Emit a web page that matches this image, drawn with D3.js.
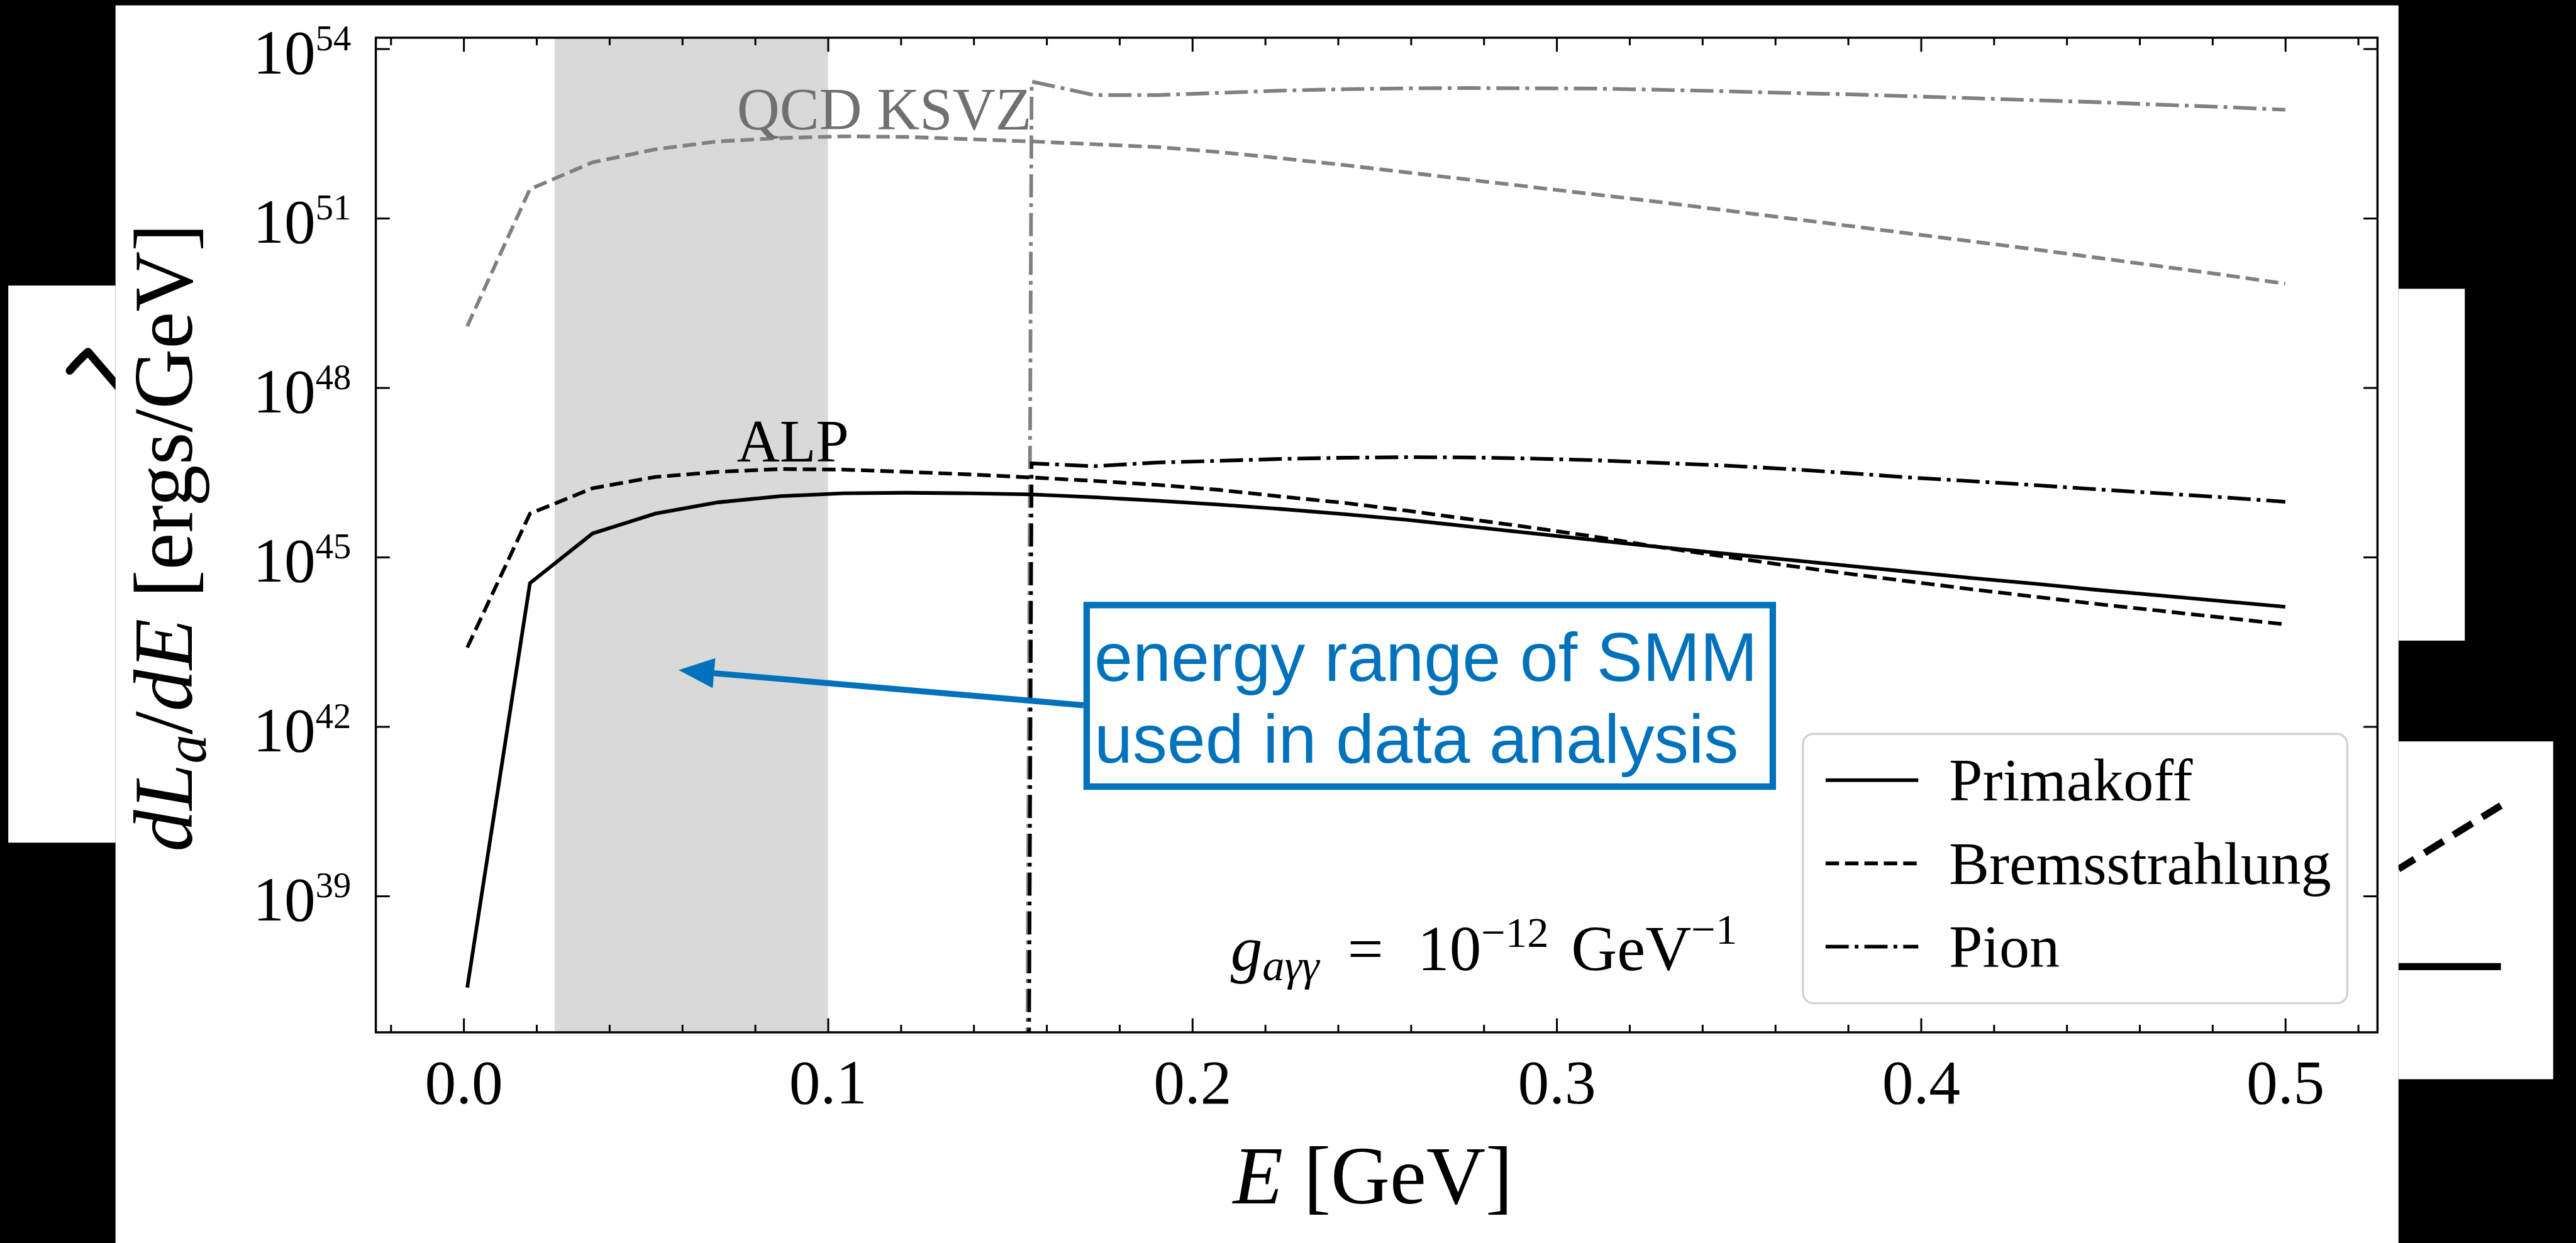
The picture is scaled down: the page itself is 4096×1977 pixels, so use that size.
<!DOCTYPE html>
<html>
<head>
<meta charset="utf-8">
<script src="https://cdn.jsdelivr.net/npm/d3@7"></script>
<style>
  html, body { margin: 0; padding: 0; background: #000; }
  svg { display: block; }
</style>
</head>
<body>
<svg id="chart"></svg>
<script>
// energies (GeV) of the computed spectrum
var energy = [0.001, 0.0182, 0.0354, 0.0526, 0.0698, 0.087, 0.1042, 0.1214, 0.1387, 0.1559,
  0.1731, 0.1903, 0.2075, 0.2247, 0.2419, 0.2591, 0.2763, 0.2935, 0.3107, 0.3279,
  0.3451, 0.3623, 0.3796, 0.3968, 0.414, 0.4312, 0.4484, 0.4656, 0.4828, 0.5];

// log10 of dL/dE [ergs/GeV]
var alpPrimakoff = [37.38, 44.54, 45.42, 45.77, 45.97, 46.08, 46.13, 46.14, 46.13, 46.11,
  46.06, 46.00, 45.93, 45.85, 45.76, 45.66, 45.54, 45.42, 45.30, 45.18,
  45.07, 44.96, 44.85, 44.74, 44.63, 44.53, 44.42, 44.32, 44.22, 44.12];
var alpBrems = [43.40, 45.77, 46.22, 46.42, 46.51, 46.56, 46.55, 46.51, 46.465, 46.41,
  46.35, 46.28, 46.19, 46.07, 45.96, 45.82, 45.67, 45.52, 45.36, 45.18,
  45.02, 44.86, 44.71, 44.57, 44.43, 44.30, 44.17, 44.05, 43.93, 43.81];
// pion channel opens near 0.155 GeV, below that it is ~0
var alpPion = [null, null, null, null, null, null, null, null, -200, 46.66,
  46.61, 46.675, 46.705, 46.74, 46.76, 46.77, 46.765, 46.745, 46.715, 46.67,
  46.625, 46.565, 46.49, 46.41, 46.345, 46.275, 46.20, 46.13, 46.06, 45.98];
var qcdBrems = [49.09, 51.515, 51.99, 52.22, 52.36, 52.42, 52.45, 52.44, 52.40, 52.36,
  52.31, 52.26, 52.17, 52.06, 51.94, 51.81, 51.68, 51.55, 51.42, 51.29,
  51.15, 51.01, 50.87, 50.73, 50.59, 50.45, 50.30, 50.15, 50.00, 49.84];
var qcdPion = [null, null, null, null, null, null, null, null, -200, 53.42,
  53.18, 53.18, 53.22, 53.26, 53.285, 53.30, 53.305, 53.30, 53.295, 53.275,
  53.25, 53.22, 53.195, 53.16, 53.125, 53.09, 53.055, 53.01, 52.97, 52.92];

var xTicks = [0, 0.1, 0.2, 0.3, 0.4, 0.5];
var xTickLabels = ["0.0", "0.1", "0.2", "0.3", "0.4", "0.5"];
var yTickExps = [39, 42, 45, 48, 51, 54];
var legendLabels = ["Primakoff", "Bremsstrahlung", "Pion"];
var smmRange = [0.025, 0.1];
var modelLabels = [["QCD KSVZ", 0.075, 52.574], ["ALP", 0.075, 46.698]];
var arrowTip = [0.059, 43.0];

var W = 4779, H = 2307;
var serif = "'Liberation Serif', 'DejaVu Serif', serif";
var sans = "'Liberation Sans', Arial, sans-serif";
var blue = "#0072bb";
var lw = 6.8;
var dashed = "25 11";
var dashdot = "43 11 7 11";

var svg = d3.select("#chart")
  .attr("width", 4096)
  .attr("height", 1977)
  .attr("viewBox", "0 0 " + W + " " + H);

// backdrop: black with white panels (slide screenshot)
svg.append("rect").attr("width", W).attr("height", H).attr("fill", "#000");
var panels = [[214, 10, 4236, 2297], [15, 530, 199, 1034], [4450, 536, 123, 653], [4450, 1376, 287, 627]];
svg.selectAll("rect.panel").data(panels).enter().append("rect")
  .attr("class", "panel")
  .attr("x", function(d) { return d[0]; })
  .attr("y", function(d) { return d[1]; })
  .attr("width", function(d) { return d[2]; })
  .attr("height", function(d) { return d[3]; })
  .attr("fill", "#fff");

// leftover bits of other slide content
var defs = svg.append("defs");
defs.append("clipPath").attr("id", "leftclip").append("rect")
  .attr("x", 15).attr("y", 530).attr("width", 199).attr("height", 1034);
defs.append("clipPath").attr("id", "rightclip").append("rect")
  .attr("x", 4450).attr("y", 1376).attr("width", 287).attr("height", 627);
svg.append("path")
  .attr("clip-path", "url(#leftclip)")
  .attr("d", "M129,688 Q146,668 163,653 L224,724")
  .attr("fill", "none").attr("stroke", "#000")
  .attr("stroke-width", 15).attr("stroke-linecap", "round").attr("stroke-linejoin", "round");
var rg = svg.append("g").attr("clip-path", "url(#rightclip)");
rg.append("line").attr("x1", 4450).attr("y1", 1613).attr("x2", 4640).attr("y2", 1495)
  .attr("stroke", "#000").attr("stroke-width", 13)
  .attr("stroke-dasharray", "41 22").attr("stroke-dashoffset", 6);
rg.append("line").attr("x1", 4450).attr("y1", 1794).attr("x2", 4640).attr("y2", 1794)
  .attr("stroke", "#000").attr("stroke-width", 13);

// plot area
var m = { left: 697, right: 4411, top: 70, bottom: 1916 };
var x = d3.scaleLinear().domain([-0.0241, 0.5253]).range([m.left, m.right]);
var y = d3.scaleLog().domain([Math.pow(10, 36.587), Math.pow(10, 54.196)]).range([m.bottom, m.top]);

defs.append("clipPath").attr("id", "plotclip").append("rect")
  .attr("x", m.left).attr("y", m.top)
  .attr("width", m.right - m.left).attr("height", m.bottom - m.top);

var plot = svg.append("g").attr("clip-path", "url(#plotclip)");

plot.append("rect")
  .attr("x", x(smmRange[0]))
  .attr("y", m.top)
  .attr("width", x(smmRange[1]) - x(smmRange[0]))
  .attr("height", m.bottom - m.top)
  .attr("fill", "#d9d9d9");

var line = d3.line()
  .defined(function(d) { return d[1] != null; })
  .x(function(d) { return x(d[0]); })
  .y(function(d) { return y(Math.pow(10, d[1])); });

var series = [
  { v: qcdBrems, color: "#808080", dash: dashed },
  { v: qcdPion, color: "#808080", dash: dashdot },
  { v: alpPrimakoff, color: "#000", dash: null },
  { v: alpBrems, color: "#000", dash: dashed },
  { v: alpPion, color: "#000", dash: dashdot }
];
series.forEach(function(s) {
  plot.append("path")
    .datum(energy.map(function(e, i) { return [e, s.v[i]]; }))
    .attr("d", line)
    .attr("fill", "none")
    .attr("stroke", s.color)
    .attr("stroke-width", lw)
    .attr("stroke-dasharray", s.dash);
});

// axes, ticks pointing in on all four sides
var minor = d3.range(-0.02, 0.53, 0.02).filter(function(v) {
  return Math.abs(v * 10 - Math.round(v * 10)) > 1e-6;
});
function styleAxis(g) {
  g.select(".domain").remove();
  g.selectAll(".tick line").attr("stroke", "#000").attr("stroke-width", 3.5);
  g.attr("font-family", serif).attr("font-size", 116);
}
svg.append("g").attr("transform", "translate(0," + m.bottom + ")")
  .call(d3.axisBottom(x).tickValues(minor).tickSize(-14).tickFormat(""))
  .call(styleAxis);
svg.append("g").attr("transform", "translate(0," + m.top + ")")
  .call(d3.axisTop(x).tickValues(minor).tickSize(-14).tickFormat(""))
  .call(styleAxis);
svg.append("g").attr("transform", "translate(0," + m.top + ")")
  .call(d3.axisTop(x).tickValues(xTicks).tickSize(-26).tickFormat(""))
  .call(styleAxis);
var gx = svg.append("g").attr("transform", "translate(0," + m.bottom + ")")
  .call(d3.axisBottom(x).tickValues(xTicks).tickSize(-26)
    .tickFormat(function(d, i) { return xTickLabels[i]; }))
  .call(styleAxis);
gx.selectAll(".tick text").attr("y", 132).attr("dy", 0).attr("fill", "#000");

var yVals = yTickExps.map(function(e) { return Math.pow(10, e); });
var gy = svg.append("g").attr("transform", "translate(" + m.left + ",0)")
  .call(d3.axisLeft(y).tickValues(yVals).tickSize(-26).tickFormat(""))
  .call(styleAxis);
svg.append("g").attr("transform", "translate(" + m.right + ",0)")
  .call(d3.axisRight(y).tickValues(yVals).tickSize(-26).tickFormat(""))
  .call(styleAxis);
gy.selectAll(".tick").each(function(d, i) {
  var t = d3.select(this).append("text")
    .attr("x", -46).attr("y", 45)
    .attr("text-anchor", "end").attr("fill", "#000");
  t.append("tspan").text("10");
  t.append("tspan").attr("dy", -43).attr("font-size", 66).text(yTickExps[i]);
});

svg.append("rect")
  .attr("x", m.left).attr("y", m.top)
  .attr("width", m.right - m.left).attr("height", m.bottom - m.top)
  .attr("fill", "none").attr("stroke", "#000").attr("stroke-width", 4);

// axis titles
var xl = svg.append("text")
  .attr("x", (m.left + m.right) / 2 - 7).attr("y", 2233)
  .attr("text-anchor", "middle")
  .attr("font-family", serif).attr("font-size", 152);
xl.append("tspan").attr("font-style", "italic").text("E");
xl.append("tspan").text("\u00a0[GeV]");

var yl = svg.append("text")
  .attr("transform", "translate(356,998) rotate(-90)")
  .attr("text-anchor", "middle")
  .attr("font-family", serif).attr("font-size", 155);
yl.append("tspan").attr("font-style", "italic").text("dL");
yl.append("tspan").attr("font-style", "italic").attr("font-size", 108).attr("dy", 25).text("a");
yl.append("tspan").attr("dy", -25).text("/");
yl.append("tspan").attr("font-style", "italic").text("dE");
yl.append("tspan").text("\u00a0[ergs/GeV]");

// model labels
svg.selectAll("text.model").data(modelLabels).enter().append("text")
  .attr("class", "model")
  .attr("x", function(d) { return x(d[1]); })
  .attr("y", function(d) { return y(Math.pow(10, d[2])); })
  .attr("font-family", serif).attr("font-size", 110)
  .attr("fill", function(d, i) { return i === 0 ? "#707070" : "#000"; })
  .text(function(d) { return d[0]; });

// coupling note
var gt = svg.append("text").attr("y", 1801).attr("font-family", serif).attr("font-size", 118);
gt.append("tspan").attr("x", 2283).attr("font-style", "italic").text("g");
gt.append("tspan").attr("font-style", "italic").attr("font-size", 82).attr("dy", 18).text("a\u03b3\u03b3");
gt.append("tspan").attr("x", 2500).attr("dy", -18).text("=");
gt.append("tspan").attr("x", 2630).text("10");
gt.append("tspan").attr("font-size", 80).attr("dy", -44).text("\u221212");
gt.append("tspan").attr("x", 2915).attr("dy", 44).text("GeV");
gt.append("tspan").attr("font-size", 80).attr("dy", -50).text("\u22121");

// legend
var lg = svg.append("g");
lg.append("rect")
  .attr("x", 3345).attr("y", 1362).attr("width", 1010).attr("height", 500)
  .attr("rx", 19).attr("ry", 19)
  .attr("fill", "#fff").attr("stroke", "#d2d2d2").attr("stroke-width", 4);
var legendDash = [null, dashed, dashdot];
legendLabels.forEach(function(name, i) {
  var ly = 1448 + i * 154.5;
  lg.append("line")
    .attr("x1", 3387).attr("x2", 3559).attr("y1", ly).attr("y2", ly)
    .attr("stroke", "#000").attr("stroke-width", lw)
    .attr("stroke-dasharray", legendDash[i]);
  lg.append("text")
    .attr("x", 3616).attr("y", ly + 38)
    .attr("font-family", serif).attr("font-size", 112)
    .text(name);
});

// SMM annotation box and arrow
var bx = 2016, by = 1123, bw = 1273, bh = 337;
var start = [2010, 1309];
var tip = [x(arrowTip[0]), y(Math.pow(10, arrowTip[1]))];
var dx = tip[0] - start[0], dy = tip[1] - start[1];
var len = Math.sqrt(dx * dx + dy * dy);
var ux = dx / len, uy = dy / len;
var headL = 66, headW = 28;
var base = [tip[0] - ux * headL, tip[1] - uy * headL];
svg.append("line")
  .attr("x1", start[0]).attr("y1", start[1])
  .attr("x2", base[0] + ux * 5).attr("y2", base[1] + uy * 5)
  .attr("stroke", blue).attr("stroke-width", 11);
svg.append("path")
  .attr("d", "M" + tip[0] + "," + tip[1] +
    "L" + (base[0] - uy * headW) + "," + (base[1] + ux * headW) +
    "L" + (base[0] + uy * headW) + "," + (base[1] - ux * headW) + "Z")
  .attr("fill", blue);
svg.append("rect")
  .attr("x", bx).attr("y", by).attr("width", bw).attr("height", bh)
  .attr("fill", "#fff").attr("stroke", blue).attr("stroke-width", 12);
var boxLines = ["energy range of SMM", "used in data analysis"];
svg.selectAll("text.note").data(boxLines).enter().append("text")
  .attr("class", "note")
  .attr("x", 2030)
  .attr("y", function(d, i) { return 1264 + i * 151; })
  .attr("font-family", sans).attr("font-size", 128)
  .attr("fill", blue)
  .text(function(d) { return d; });
</script>
</body>
</html>
